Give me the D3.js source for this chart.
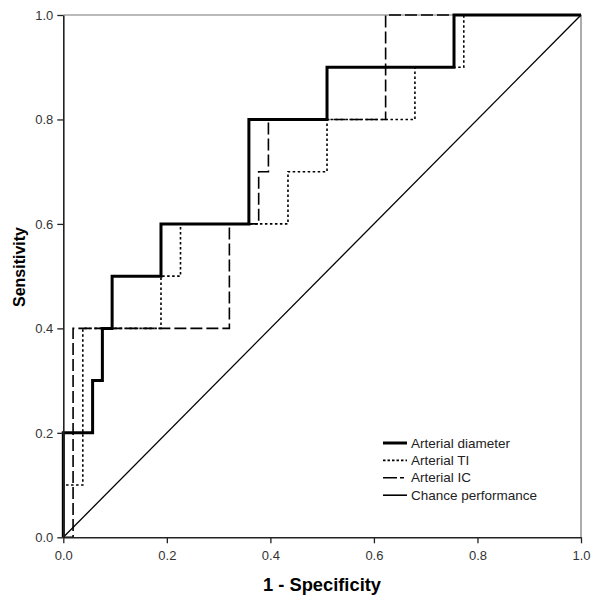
<!DOCTYPE html>
<html>
<head>
<meta charset="utf-8">
<script src="https://cdn.jsdelivr.net/npm/d3@7"></script>
<style>
  body { margin: 0; background: #fff; }
  svg { font-family: "Liberation Sans", Arial, sans-serif; }
</style>
</head>
<body>
<script>
// ROC step points: [1 - specificity, sensitivity]
const diameterPts = [[0, 0], [0, 0.2], [0.0566, 0.2], [0.0566, 0.3], [0.0755, 0.3], [0.0755, 0.4],
  [0.0943, 0.4], [0.0943, 0.5], [0.1887, 0.5], [0.1887, 0.6], [0.3585, 0.6], [0.3585, 0.8],
  [0.5094, 0.8], [0.5094, 0.9], [0.7547, 0.9], [0.7547, 1.0], [1, 1]];
const tiPts = [[0, 0], [0, 0.1], [0.0377, 0.1], [0.0377, 0.4], [0.1887, 0.4], [0.1887, 0.5],
  [0.2264, 0.5], [0.2264, 0.6], [0.434, 0.6], [0.434, 0.7], [0.5094, 0.7], [0.5094, 0.8],
  [0.6792, 0.8], [0.6792, 0.9], [0.7736, 0.9], [0.7736, 1.0], [1, 1]];
const icPts = [[0, 0], [0.0189, 0], [0.0189, 0.4], [0.3208, 0.4], [0.3208, 0.6], [0.3774, 0.6],
  [0.3774, 0.7], [0.3962, 0.7], [0.3962, 0.8], [0.6226, 0.8], [0.6226, 1.0], [1, 1]];
const chancePts = [[0, 0], [1, 1]];
const ticks = [0, 0.2, 0.4, 0.6, 0.8, 1.0];
const seriesNames = ['Arterial diameter', 'Arterial TI', 'Arterial IC', 'Chance performance'];

const series = [
  { name: seriesNames[0], pts: diameterPts, width: 3, dash: null },
  { name: seriesNames[1], pts: tiPts, width: 1.6, dash: '2.5 2.5' },
  { name: seriesNames[2], pts: icPts, width: 1.6, dash: '12 4' },
  { name: seriesNames[3], pts: chancePts, width: 1.3, dash: null }
];

let svg = d3.select('body').append('svg').attr('width', 600).attr('height', 604);

let x = d3.scaleLinear([0, 1], [63.3, 581]);
let y = d3.scaleLinear([0, 1], [537.3, 15]);

// frame (top and right)
svg.append('polyline')
  .attr('points', `${x(0)},${y(1)} ${x(1)},${y(1)} ${x(1)},${y(0)}`)
  .attr('fill', 'none').attr('stroke', '#777').attr('stroke-width', 1.2);

let line = d3.line(d => x(d[0]), d => y(d[1]));

// draw in reverse so diameter sits on top
series.slice().reverse().forEach(s => {
  svg.append('path')
    .attr('d', line(s.pts))
    .attr('fill', 'none')
    .attr('stroke', '#000')
    .attr('stroke-width', s.width)
    .attr('stroke-dasharray', s.dash);
});

// axes
let axX = svg.append('g').attr('transform', `translate(0,${y(0)})`)
  .call(d3.axisBottom(x).tickValues(ticks).tickFormat(d3.format('.1f')).tickSize(6).tickSizeOuter(0));
let axY = svg.append('g').attr('transform', `translate(${x(0)},0)`)
  .call(d3.axisLeft(y).tickValues(ticks).tickFormat(d3.format('.1f')).tickSize(6).tickSizeOuter(0));
[axX, axY].forEach(a => {
  a.select('.domain').attr('stroke', '#222').attr('stroke-width', 1.6);
  a.selectAll('.tick line').attr('stroke', '#222').attr('stroke-width', 1.3);
  a.selectAll('.tick text').attr('fill', '#333').style('font-size', '13px')
    .style('font-family', '"Liberation Sans", Arial, sans-serif');
});
axX.selectAll('.tick text').attr('y', 13);
axY.selectAll('.tick text').attr('x', -10);

// axis titles
svg.append('text').attr('x', 322).attr('y', 591).attr('text-anchor', 'middle')
  .attr('textLength', 118).attr('lengthAdjust', 'spacingAndGlyphs')
  .style('font-size', '17.5px').style('font-weight', 'bold').text('1 - Specificity');
svg.append('text').attr('transform', 'translate(25,267) rotate(-90)').attr('text-anchor', 'middle')
  .style('font-size', '16px').style('font-weight', 'bold').text('Sensitivity');

// legend
let lg = svg.append('g').attr('transform', 'translate(383,443)');
series.forEach((s, i) => {
  let row = lg.append('g').attr('transform', `translate(0,${i * 17.4})`);
  row.append('line').attr('x1', 0).attr('x2', 24).attr('y1', 0).attr('y2', 0)
    .attr('stroke', '#000').attr('stroke-width', i === 0 ? 3 : 1.6)
    .attr('stroke-dasharray', i === 1 ? '2.5 2' : (i === 2 ? '14 3 4 3' : null));
  row.append('text').attr('x', 28).attr('y', 4.5).style('font-size', '13.5px').attr('fill', '#222')
    .text(s.name);
});
</script>
</body>
</html>
